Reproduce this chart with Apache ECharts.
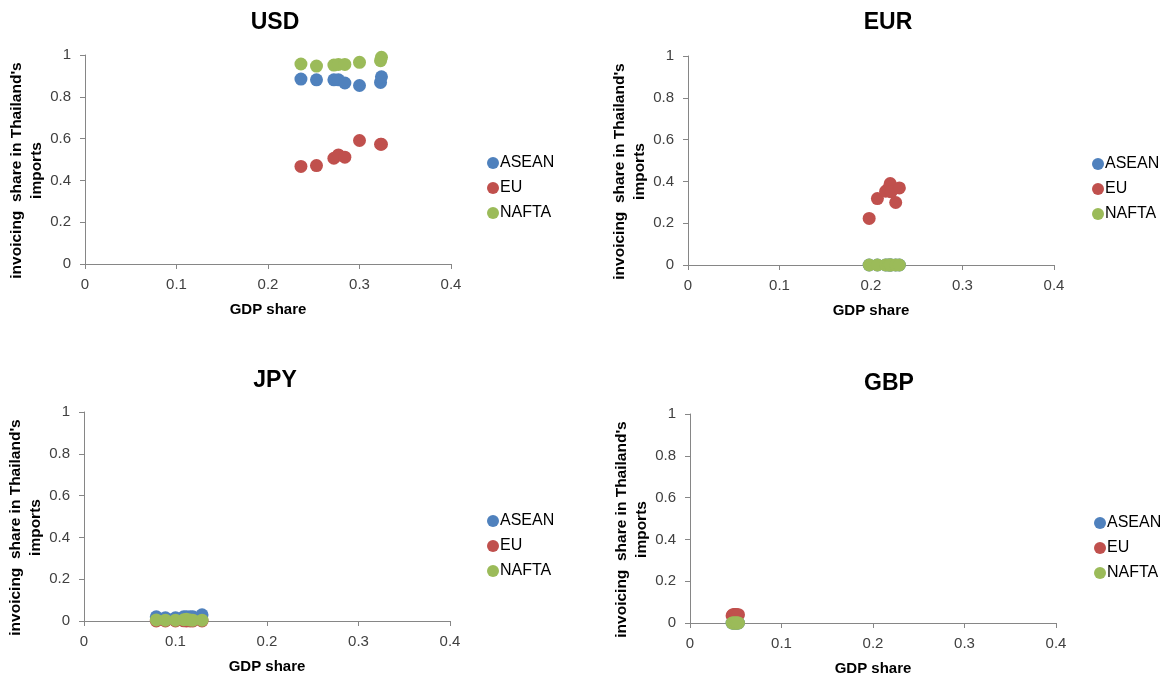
<!DOCTYPE html>
<html>
<head>
<meta charset="utf-8">
<script src="https://cdn.jsdelivr.net/npm/echarts@6/dist/echarts.min.js"></script>
<style>
  html, body { margin: 0; padding: 0; background: #fff; }
  #chart { width: 1166px; height: 679px; }
</style>
</head>
<body>
<div id="chart"></div>
<script>
// panel titles and regions
const currencies = ['USD', 'EUR', 'JPY', 'GBP']
const regions = ['ASEAN', 'EU', 'NAFTA']
const xTicks = [0, 0.1, 0.2, 0.3, 0.4]
const yTicks = [0, 0.2, 0.4, 0.6, 0.8, 1]

// USD
const usdGdp = [0.236, 0.253, 0.272, 0.277, 0.284, 0.300, 0.323, 0.324]
const usdAsean = [0.885, 0.881, 0.881, 0.881, 0.866, 0.854, 0.869, 0.896]
const usdEu = [0.467, 0.471, 0.506, 0.522, 0.511, 0.591, 0.573, 0.573]
const usdNafta = [0.957, 0.947, 0.952, 0.955, 0.955, 0.965, 0.973, 0.989]

// EUR
const eurGdp = [0.198, 0.207, 0.216, 0.219, 0.221, 0.222, 0.227, 0.231]
const eurAsean = [0, 0, 0, 0, 0, 0, 0, 0]
const eurEu = [0.223, 0.318, 0.353, 0.366, 0.390, 0.350, 0.299, 0.369]
const eurNafta = [0, 0, 0, 0, 0, 0, 0, 0]

// JPY
const jpyGdp = [0.079, 0.089, 0.100, 0.109, 0.112, 0.116, 0.119, 0.129]
const jpyAsean = [0.020, 0.015, 0.015, 0.020, 0.020, 0.020, 0.020, 0.030]
const jpyEu = [0.000, 0.000, 0.000, 0.001, 0.000, 0.000, 0.000, 0.000]
const jpyNafta = [0.005, 0.004, 0.004, 0.006, 0.008, 0.005, 0.004, 0.004]

// GBP
const gbpGdp = [0.046, 0.047, 0.048, 0.049, 0.050, 0.051, 0.052, 0.053]
const gbpAsean = [0, 0, 0, 0, 0, 0, 0, 0]
const gbpEu = [0.035, 0.040, 0.040, 0.041, 0.040, 0.040, 0.038, 0.040]
const gbpNafta = [0, 0, 0, 0, 0, 0, 0, 0]

const panelData = [
  [usdGdp, [usdAsean, usdEu, usdNafta]],
  [eurGdp, [eurAsean, eurEu, eurNafta]],
  [jpyGdp, [jpyAsean, jpyEu, jpyNafta]],
  [gbpGdp, [gbpAsean, gbpEu, gbpNafta]],
]

const colors = ['#4F81BD', '#C0504D', '#9BBB59']

// plot boxes: left, top, width, height
const boxes = [
  [85, 55, 366, 209],
  [688, 56, 366, 209],
  [84, 412, 366, 209],
  [690, 414, 366, 209],
]
const titlePos = [[270, 6], [883, 6], [270, 364], [884, 367]]
const legendPos = [[482, 150], [1087, 151], [482, 508], [1089, 510]]

const chart = echarts.init(document.getElementById('chart'))

const axisColor = '#868686'
const labelColor = '#404040'
const font = 'Liberation Sans'

const pairs = (xs, ys) => xs.map((x, i) => [x, ys[i]])

const option = {
  animation: false,
  textStyle: { fontFamily: font },
  title: currencies.map((c, i) => ({
    text: c,
    left: titlePos[i][0],
    top: titlePos[i][1],
    textAlign: 'center',
    textStyle: { fontSize: 23, fontWeight: 'bold', color: '#000', fontFamily: font },
  })),
  legend: legendPos.map((p) => ({
    data: regions,
    orient: 'vertical',
    left: p[0],
    top: p[1],
    itemGap: 9,
    itemWidth: 12,
    itemHeight: 12,
    icon: 'circle',
    textStyle: { fontSize: 16, color: '#000', fontFamily: font, padding: [0, 0, 0, -4] },
  })),
  grid: boxes.map((b) => ({ left: b[0], top: b[1], width: b[2], height: b[3] })),
  xAxis: boxes.map((b, i) => ({
    gridIndex: i,
    type: 'value',
    min: xTicks[0],
    max: xTicks[xTicks.length - 1],
    interval: 0.1,
    name: 'GDP share',
    nameLocation: 'middle',
    nameGap: 38,
    nameTextStyle: { fontSize: 15, fontWeight: 'bold', color: '#000' },
    axisLine: { show: true, lineStyle: { color: axisColor } },
    axisTick: { show: true, length: 5, lineStyle: { color: axisColor } },
    axisLabel: { fontSize: 15, color: labelColor, margin: 13 },
    splitLine: { show: false },
  })),
  yAxis: boxes.map((b, i) => ({
    gridIndex: i,
    type: 'value',
    min: yTicks[0],
    max: yTicks[yTicks.length - 1],
    interval: 0.2,
    name: "invoicing  share in Thailand's\nimports",
    nameLocation: 'middle',
    nameRotate: 90,
    nameGap: 34,
    nameTextStyle: {
      fontSize: 15.5, fontWeight: 'bold', color: '#000', lineHeight: 20,
      padding: [0, 22, 0, 0],
    },
    axisLine: { show: true, lineStyle: { color: axisColor } },
    axisTick: { show: true, length: 5, lineStyle: { color: axisColor } },
    axisLabel: { fontSize: 15, color: labelColor, margin: 14 },
    splitLine: { show: false },
  })),
  series: [],
}

panelData.forEach(([gdp, vals], i) => {
  vals.forEach((ys, r) => {
    option.series.push({
      name: regions[r],
      type: 'scatter',
      xAxisIndex: i,
      yAxisIndex: i,
      symbolSize: 13,
      itemStyle: { color: colors[r], opacity: 1 },
      data: pairs(gdp, ys),
    })
  })
})

chart.setOption(option)
</script>
</body>
</html>
